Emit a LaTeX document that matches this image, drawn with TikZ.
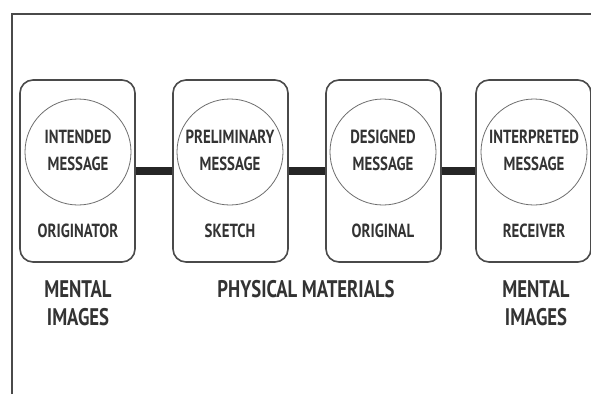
\documentclass[tikz,border=0pt]{standalone}
\usepackage{fontspec}
\newfontfamily\lab{PT Sans}[FakeStretch=0.78]
\definecolor{ink}{HTML}{333333}
\definecolor{edge}{HTML}{4A4A4A}
\begin{document}
\begin{tikzpicture}[x=1pt,y=-1pt,
  stagebox/.style={draw=edge, line width=1.6pt, rounded corners=13pt,
    minimum width=115, minimum height=182, inner sep=0pt},
  msgcircle/.style={draw=edge!80, line width=0.8pt, circle, minimum size=106, inner sep=0pt},
  txt/.style={text=ink, align=center, inner sep=0pt,
    font=\lab\bfseries\fontsize{19}{27}\selectfont},
  bigtxt/.style={text=ink, align=center, inner sep=0pt,
    font=\lab\bfseries\fontsize{24}{28}\selectfont},
  bar/.style={line width=8pt, draw=black!85}]
\useasboundingbox (0,0) rectangle (591,394);
\fill[white] (0,0) rectangle (591,394);

% outer frame (top and left edges)
\coordinate (fb) at (12,394);
\coordinate (fc) at (12,14);
\coordinate (fr) at (591,14);
\draw[line width=2pt, edge] (fb) -- (fc) -- (fr);

% four stages
\node[stagebox] (b1) at (77.5,171) {};
\node[stagebox] (b2) at (230.5,171) {};
\node[stagebox] (b3) at (383.5,171) {};
\node[stagebox] (b4) at (533.5,171) {};

\node[msgcircle] (c1) at (78,152) {};
\node[msgcircle] (c2) at (230,152) {};
\node[msgcircle] (c3) at (383,152) {};
\node[msgcircle] (c4) at (534,152) {};

\node[txt] (t1) at (78,150.5) {INTENDED\\MESSAGE};
\node[txt] (t2) at (230,150.5) {PRELIMINARY\\MESSAGE};
\node[txt] (t3) at (383,150.5) {DESIGNED\\MESSAGE};
\node[txt] (t4) at (534,150.5) {INTERPRETED\\MESSAGE};

\node[txt] (r1) at (78,231) {ORIGINATOR};
\node[txt] (r2) at (230,231) {SKETCH};
\node[txt] (r3) at (383,231) {ORIGINAL};
\node[txt] (r4) at (534,231) {RECEIVER};

% thick connectors between stages
\draw[bar] (b1.east) -- (b2.west);
\draw[bar] (b2.east) -- (b3.west);
\draw[bar] (b3.east) -- (b4.west);

% group captions
\node[bigtxt] (g1) at (78,303) {MENTAL\\IMAGES};
\node[bigtxt] (g2) at (306,289) {PHYSICAL MATERIALS};
\node[bigtxt] (g3) at (536,303) {MENTAL\\IMAGES};
\end{tikzpicture}
\end{document}
